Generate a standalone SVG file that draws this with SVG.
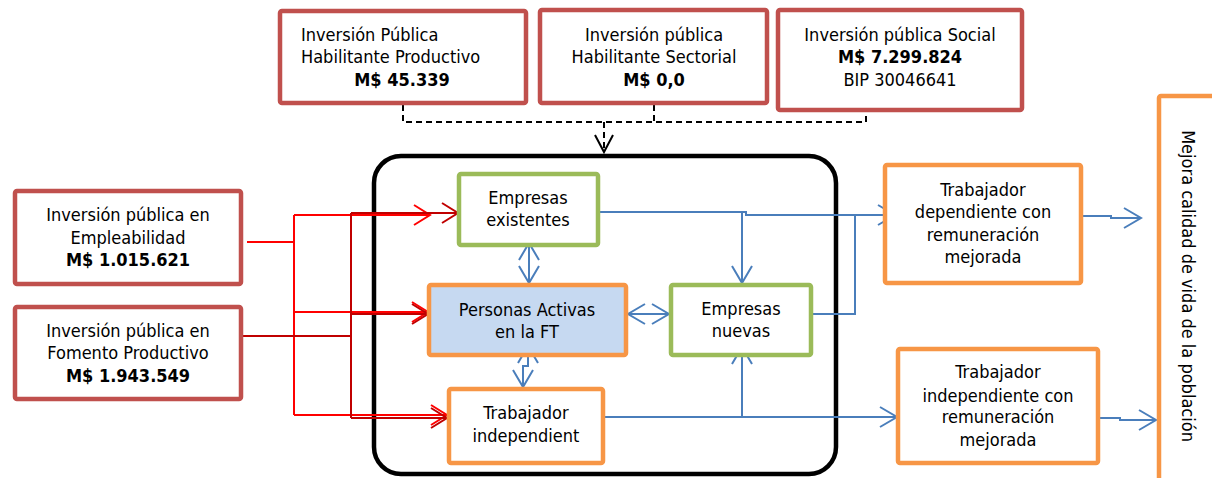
<svg xmlns="http://www.w3.org/2000/svg" width="1212" height="478" viewBox="0 0 1212 478">
<style>
text{font-family:"DejaVu Sans Condensed","DejaVu Sans",sans-serif;font-size:18px;fill:#000;}
.c{text-anchor:middle;}
.b{font-weight:bold;}
.red{fill:#fff;stroke:#C0504D;stroke-width:4.5;}
.org{fill:#fff;stroke:#F79646;stroke-width:4.5;}
.grn{fill:#fff;stroke:#9BBB59;stroke-width:4.5;}
.blu{fill:none;stroke:#4A7EBB;stroke-width:2;}
.r1{fill:none;stroke:#FF0000;stroke-width:2;}
.r2{fill:none;stroke:#C00000;stroke-width:2;}
.dash{fill:none;stroke:#000;stroke-width:2;stroke-dasharray:6 4;}
</style>
<defs>
<marker id="ab" markerUnits="userSpaceOnUse" markerWidth="22" markerHeight="24" refX="17" refY="11" orient="auto-start-reverse" overflow="visible">
<path d="M0,1 L17,11 L0,21" fill="none" stroke="#4A7EBB" stroke-width="2"/>
</marker>
<marker id="ar" markerUnits="userSpaceOnUse" markerWidth="22" markerHeight="22" refX="16" refY="10" orient="auto" overflow="visible">
<path d="M0,0 L16,10 L0,20" fill="none" stroke="#FF0000" stroke-width="2"/>
</marker>
<marker id="ad" markerUnits="userSpaceOnUse" markerWidth="22" markerHeight="22" refX="16" refY="10" orient="auto" overflow="visible">
<path d="M0,0 L16,10 L0,20" fill="none" stroke="#C00000" stroke-width="2"/>
</marker>
<marker id="ak" markerUnits="userSpaceOnUse" markerWidth="22" markerHeight="22" refX="17" refY="10" orient="auto" overflow="visible">
<path d="M0,1 L17,10 L0,19" fill="none" stroke="#000" stroke-width="2"/>
</marker>
</defs>

<g id="programa">
<rect x="374" y="156" width="462" height="318" rx="27" fill="none" stroke="#000" stroke-width="4.5"/>
</g>

<g id="connectors">
<path class="dash" d="M403,105 V122 H866 V112"/>
<path class="dash" d="M654,105 V122"/>
<path class="dash" d="M604,122 V152" marker-end="url(#ak)"/>

<path class="r1" d="M247,242 H294 M294,215 V415"/>
<path class="r1" d="M294,215 H430" marker-end="url(#ar)"/>
<path class="r1" d="M294,312 H428" marker-end="url(#ar)"/>
<path class="r1" d="M294,415 H447" marker-end="url(#ar)"/>
<path class="r2" d="M243,336 H351 M351,213 V418"/>
<path class="r2" d="M351,213 H458" marker-end="url(#ad)"/>
<path class="r2" d="M351,314 H428" marker-end="url(#ad)"/>
<path class="r2" d="M351,418 H447" marker-end="url(#ad)"/>

<path class="blu" d="M600,212 H746 V215 H895" marker-end="url(#ab)"/>
<path class="blu" d="M742,212 V283" marker-end="url(#ab)"/>
<path class="blu" d="M813,314 H855 V215"/>
<path class="blu" d="M605,417 H897" marker-end="url(#ab)"/>
<path class="blu" d="M742,417 V347" marker-end="url(#ab)"/>
<path class="blu" d="M628,314 H669" marker-start="url(#ab)" marker-end="url(#ab)"/>
<path class="blu" d="M529,243 V283" marker-start="url(#ab)" marker-end="url(#ab)"/>
<path class="blu" d="M528,346 V366 H523 V387" marker-start="url(#ab)" marker-end="url(#ab)"/>
<path class="blu" d="M1083,216 H1111 V218 H1141" marker-end="url(#ab)"/>
<path class="blu" d="M1100,418 H1120 V420 H1156" marker-end="url(#ab)"/>
</g>

<g id="inv-habilitante-productivo">
<rect class="red" x="280" y="11" width="246" height="92" rx="2"/>
<text x="301" y="41">Inversión Pública</text>
<text x="301" y="63">Habilitante Productivo</text>
<text class="c b" x="402" y="86">M$ 45.339</text>
</g>
<g id="inv-habilitante-sectorial">
<rect class="red" x="540" y="10" width="227" height="93" rx="2"/>
<text class="c" x="654" y="41">Inversión pública</text>
<text class="c" x="654" y="63">Habilitante Sectorial</text>
<text class="c b" x="654" y="86">M$ 0,0</text>
</g>
<g id="inv-social">
<rect class="red" x="778" y="10" width="244" height="100" rx="2"/>
<text class="c" x="900" y="41">Inversión pública Social</text>
<text class="c b" x="900" y="63">M$ 7.299.824</text>
<text class="c" x="900" y="86">BIP 30046641</text>
</g>
<g id="inv-empleabilidad">
<rect class="red" x="15" y="191" width="226" height="93" rx="2"/>
<text class="c" x="128" y="221">Inversión pública en</text>
<text class="c" x="128" y="244">Empleabilidad</text>
<text class="c b" x="128" y="266">M$ 1.015.621</text>
</g>
<g id="inv-fomento">
<rect class="red" x="15" y="307" width="226" height="92" rx="2"/>
<text class="c" x="128" y="337">Inversión pública en</text>
<text class="c" x="128" y="359">Fomento Productivo</text>
<text class="c b" x="128" y="382">M$ 1.943.549</text>
</g>

<g id="empresas-existentes">
<rect class="grn" x="459" y="174" width="139" height="71" rx="2"/>
<text class="c" x="528" y="204">Empresas</text>
<text class="c" x="528" y="226">existentes</text>
</g>
<g id="personas-activas">
<rect class="org" x="429" y="285" width="197" height="70" rx="2" style="fill:#C6D9F1"/>
<text class="c" x="527" y="316">Personas Activas</text>
<text class="c" x="527" y="338">en la FT</text>
</g>
<g id="trabajador-independient">
<rect class="org" x="449" y="389" width="154" height="74" rx="2"/>
<text class="c" x="526" y="419">Trabajador</text>
<text class="c" x="526" y="442">independient</text>
</g>
<g id="empresas-nuevas">
<rect class="grn" x="671" y="285" width="140" height="70" rx="2"/>
<text class="c" x="741" y="315">Empresas</text>
<text class="c" x="741" y="337">nuevas</text>
</g>

<g id="trabajador-dependiente-mejorada">
<rect class="org" x="885" y="165" width="196" height="118" rx="2"/>
<text class="c" x="983" y="196">Trabajador</text>
<text class="c" x="983" y="218">dependiente con</text>
<text class="c" x="983" y="241">remuneración</text>
<text class="c" x="983" y="263">mejorada</text>
</g>
<g id="trabajador-independiente-mejorada">
<rect class="org" x="898" y="349" width="200" height="114" rx="2"/>
<text class="c" x="998" y="378">Trabajador</text>
<text class="c" x="998" y="402">independiente con</text>
<text class="c" x="998" y="423">remuneración</text>
<text class="c" x="998" y="446">mejorada</text>
</g>
<g id="mejora-calidad">
<rect class="org" x="1159" y="96" width="56" height="400" rx="2"/>
<text class="c" transform="translate(1182,286) rotate(90)">Mejora calidad de vida de la población</text>
</g>
</svg>
